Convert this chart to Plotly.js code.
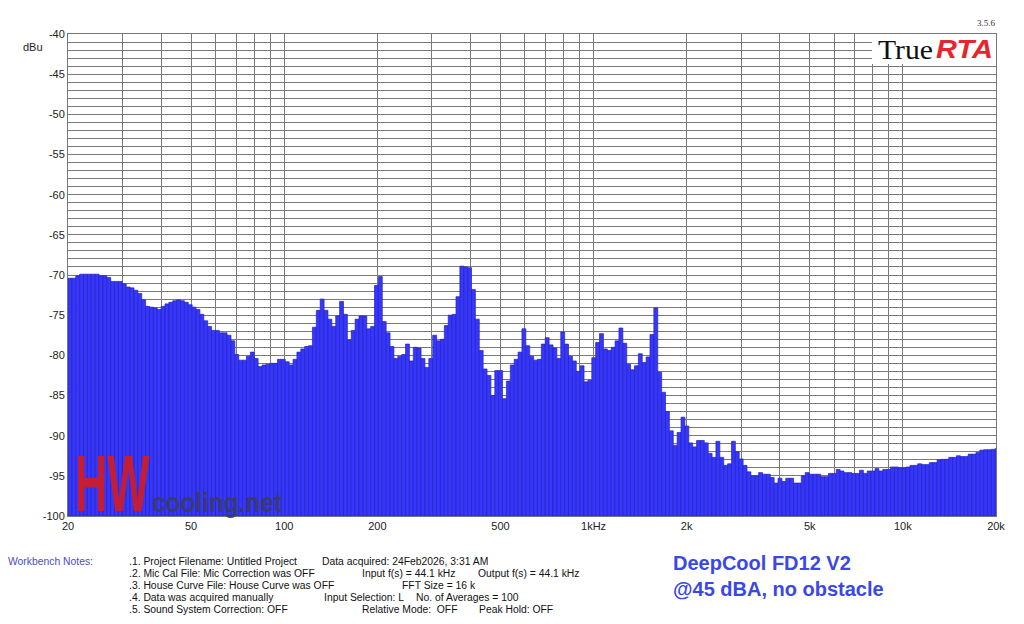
<!DOCTYPE html>
<html>
<head>
<meta charset="utf-8">
<script src="https://cdn.plot.ly/plotly-3.0.1.min.js"></script>
<style>
  html, body { margin: 0; padding: 0; background: #ffffff; }
  #chart { width: 1024px; height: 624px; }
</style>
</head>
<body>
<div id="chart"></div>
<script>
// 1/24-octave RTA bands starting at 20 Hz (240 bands up to 20 kHz)
const bandsPerOctave = 24;
const bandCount = 240;
const startFreq = 20;

const levels = [
  -70.4, -70.4, -70.1, -69.9, -69.9, -69.9, -69.9, -69.9, -70.1, -70.1,
  -70.3, -70.8, -70.8, -70.8, -71.1, -71.5, -71.6, -71.9, -72.3, -73.1,
  -73.9, -74.0, -74.1, -74.3, -73.9, -73.6, -73.4, -73.2, -73.1, -73.2,
  -73.4, -73.7, -74.0, -74.3, -74.9, -75.7, -76.4, -76.9, -76.9, -77.2,
  -77.2, -77.5, -78.2, -79.9, -80.6, -80.6, -80.1, -79.6, -80.4, -81.4,
  -81.2, -81.1, -81.0, -81.0, -80.5, -80.5, -80.8, -81.2, -80.5, -79.6,
  -79.2, -78.9, -78.8, -76.5, -74.4, -73.0, -74.4, -75.5, -76.4, -75.1,
  -73.3, -74.9, -78.1, -76.9, -75.5, -75.1, -75.1, -76.7, -76.4, -71.3,
  -70.2, -75.8, -77.2, -78.9, -80.4, -80.1, -79.9, -78.6, -80.7, -79.0,
  -79.1, -80.4, -81.5, -80.4, -77.5, -78.2, -78.0, -76.3, -75.0, -74.9,
  -72.7, -68.9, -69.0, -69.1, -71.8, -75.5, -79.4, -81.7, -82.5, -85.0,
  -81.9, -81.9, -85.4, -83.2, -81.2, -80.5, -79.6, -76.7, -78.8, -80.1,
  -80.6, -80.5, -78.6, -77.8, -78.7, -79.1, -80.4, -77.1, -78.6, -80.1,
  -80.7, -82.0, -81.3, -83.3, -83.1, -80.3, -78.4, -77.3, -79.2, -79.4,
  -79.0, -78.2, -76.6, -78.5, -81.1, -81.8, -81.3, -79.8, -80.9, -80.2,
  -77.4, -74.1, -82.1, -84.6, -87.0, -89.4, -91.2, -89.6, -87.7, -88.8,
  -90.9, -91.4, -90.6, -90.6, -90.9, -92.2, -92.7, -90.7, -92.7, -93.7,
  -93.5, -90.7, -92.0, -92.9, -93.7, -94.5, -95.0, -95.0, -94.6, -94.8,
  -94.8, -95.2, -95.9, -95.3, -95.7, -95.3, -95.3, -95.9, -95.9, -95.0,
  -94.6, -94.8, -94.8, -94.8, -95.1, -95.1, -94.7, -94.7, -94.2, -94.4,
  -94.6, -94.6, -94.7, -94.7, -94.3, -94.7, -94.4, -94.4, -94.1, -94.4,
  -94.2, -94.2, -93.9, -93.9, -94.0, -94.0, -93.9, -93.7, -93.7, -93.5,
  -93.6, -93.6, -93.35, -93.35, -93.0, -92.95, -92.95, -92.7, -92.7, -92.5,
  -92.6, -92.6, -92.3, -92.3, -92.1, -91.8, -91.75, -91.75, -91.7, -91.6
];

// Axis ticks
const xTickFreqs = [20, 50, 100, 200, 500, 1000, 2000, 5000, 10000, 20000];
const xTickLabels = ['20', '50', '100', '200', '500', '1kHz', '2k', '5k', '10k', '20k'];
const xGridFreqs = [30, 40, 60, 70, 80, 90, 300, 400, 600, 700, 800, 900,
                    3000, 4000, 6000, 7000, 8000, 9000];
const yRange = [-100, -40];
const yTickVals = [-100, -95, -90, -85, -80, -75, -70, -65, -60, -55, -50, -45, -40];
const yTickLabels = ['-100', '-95', '-90', '-85', '-80', '-75', '-70', '-65', '-60', '-55', '-50', '-45', '-40'];

// Notes text
const notesLabel = 'Workbench Notes:';
const notesCol1 = [
  '.1. Project Filename: Untitled Project',
  '.2. Mic Cal File: Mic Correction was OFF',
  '.3. House Curve File: House Curve was OFF',
  '.4. Data was acquired manually',
  '.5. Sound System Correction: OFF'
];
const notesExtra = [
  [ [320, 0, 'Data acquired: 24Feb2026, 3:31 AM'] ],
  [ [360, 1, 'Input f(s) = 44.1 kHz'], [476, 1, 'Output f(s) = 44.1 kHz'] ],
  [ [400, 2, 'FFT Size = 16 k'] ],
  [ [322, 3, 'Input Selection: L'], [414, 3, 'No. of Averages = 100'] ],
  [ [360, 4, 'Relative Mode:  OFF'], [477, 4, 'Peak Hold: OFF'] ]
];
const titleLine1 = 'DeepCool FD12 V2';
const titleLine2 = '@45 dBA, no obstacle';

// ---- build ----
const log = Math.log10;
const bandWidth = log(2) / bandsPerOctave;
const bandCenters = [];
for (let i = 0; i < bandCount; i++) bandCenters.push(startFreq * Math.pow(2, (i + 0.5) / bandsPerOctave));
const xs = bandCenters.map(log);
const base = yRange[0];

const W = 1024, H = 624;
const M = { l: 68, r: 28, t: 34, b: 108 };
const PW = W - M.l - M.r, PH = H - M.t - M.b;
const px = x => (x - M.l) / PW;      // pixel -> paper x
const py = y => (H - M.b - y) / PH;  // pixel -> paper y

const sans = 'Liberation Sans, Arial, sans-serif';
const annotations = [];
const squeeze = {};   // annotation index -> horizontal scale
function addText(x, y, text, font, sx) {
  annotations.push({
    xref: 'paper', yref: 'paper', x: px(x), y: py(y), text: text,
    showarrow: false, xanchor: 'left', yanchor: 'middle',
    font: font || { family: sans, size: 11.5, color: '#111' }
  });
  if (sx) squeeze[annotations.length - 1] = sx;
}
const narrow = 0.9;

addText(21, 47, 'dBu', { family: sans, size: 11, color: '#222' });
addText(6, 561, notesLabel, { family: sans, size: 11.5, color: '#4a4ad0' }, narrow);
const lineY = [561, 573, 585, 597, 609];
notesCol1.forEach((t, k) => addText(127, lineY[k], t, null, narrow));
notesExtra.forEach(arr => arr.forEach(([x, k, t]) => addText(x, lineY[k], t, null, narrow)));

addText(671, 563, '<b>' + titleLine1 + '</b>', { family: sans, size: 20, color: '#3a48e6' });
addText(671, 589, '<b>' + titleLine2 + '</b>', { family: sans, size: 20, color: '#3a48e6' });

// TrueRTA logo
addText(876, 50, 'True', { family: 'Liberation Serif, Times New Roman, serif', size: 27, color: '#111' }, 1.1);
addText(934, 49, '<b><i>RTA</i></b>', { family: sans, size: 25, color: '#e8242c' }, 1.16);
addText(975, 23, '3.5.6', { family: 'Liberation Serif, serif', size: 9, color: '#333' });

// HWcooling watermark
addText(73, 483, '<b>HW</b>', { family: sans, size: 80, color: 'rgba(208,28,38,0.92)' }, 0.56);
addText(150, 502, '<b>cooling.net</b>', { family: sans, size: 28, color: 'rgba(58,60,104,0.95)' }, 0.87);

const trace = {
  type: 'bar',
  x: xs,
  y: levels.map(v => v - base),
  base: base,
  width: bandWidth,
  marker: { color: '#3636ff', line: { color: '#2222b8', width: 0.7 } },
  hovertemplate: '%{customdata:.0f} Hz: %{y}<extra></extra>',
  customdata: bandCenters
};

const gridColor = '#7a7a7a';
const tickFont = { family: sans, size: 11, color: '#222' };
const layout = {
  width: W, height: H,
  margin: M,
  paper_bgcolor: '#ffffff',
  plot_bgcolor: '#ffffff',
  showlegend: false,
  bargap: 0,
  xaxis: {
    type: 'linear',
    range: [log(20), log(20000)],
    tickmode: 'array',
    tickvals: xTickFreqs.map(log),
    ticktext: xTickLabels,
    showgrid: true, gridcolor: gridColor, gridwidth: 1,
    minor: { tickmode: 'array', tickvals: xGridFreqs.map(log), showgrid: true, gridcolor: gridColor, gridwidth: 1, ticks: '' },
    showline: true, linecolor: '#777', linewidth: 1, mirror: true,
    ticks: '', zeroline: false,
    tickfont: tickFont,
    layer: 'above traces'
  },
  yaxis: {
    range: yRange,
    tickmode: 'array',
    tickvals: yTickVals,
    ticktext: yTickLabels,
    showgrid: true, gridcolor: gridColor, gridwidth: 1,
    minor: { dtick: 1, tick0: 0, showgrid: true, gridcolor: gridColor, gridwidth: 1, ticks: '' },
    showline: true, linecolor: '#777', linewidth: 1, mirror: true,
    ticks: '', zeroline: false,
    tickfont: tickFont,
    layer: 'above traces'
  },
  shapes: [
    { type: 'rect', xref: 'paper', yref: 'paper', x0: px(872), x1: 1, y0: py(64), y1: 1,
      fillcolor: '#ffffff', line: { width: 0 }, layer: 'above' }
  ],
  annotations: annotations
};

Plotly.newPlot('chart', [trace], layout, { staticPlot: true, displayModeBar: false }).then(gd => {
  // emulate condensed / wide typefaces by scaling selected annotation texts horizontally
  gd.querySelectorAll('g.annotation').forEach(g => {
    const idx = +g.getAttribute('data-index');
    const s = squeeze[idx];
    if (!s) return;
    const t = g.querySelector('text.annotation-text');
    if (!t) return;
    const bb = t.getBBox();
    const prev = t.getAttribute('transform') || '';
    t.setAttribute('transform', prev + ' translate(' + bb.x + ',0) scale(' + s + ',1) translate(' + (-bb.x) + ',0)');
  });
});
</script>
</body>
</html>
